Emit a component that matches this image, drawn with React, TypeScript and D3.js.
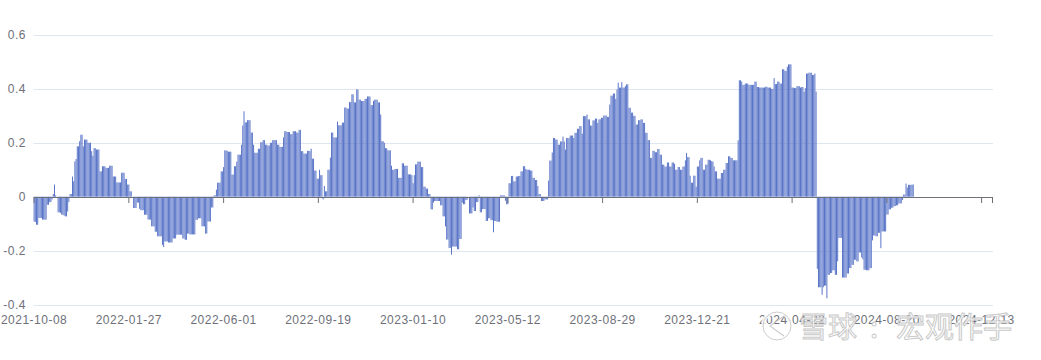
import React from "react";
import * as d3 from "d3";

const TOTAL_CATEGORIES = 800;
const LABEL_STEP = 79;
const tickLabels = [
  "2021-10-08", "2022-01-27", "2022-06-01", "2022-09-19", "2023-01-10",
  "2023-05-12", "2023-08-29", "2023-12-21", "2024-04-22", "2024-08-20", "2024-12-13",
];
const yTicks = [-0.4, -0.2, 0, 0.2, 0.4, 0.6];

const values = [
  -0.092,-0.094,-0.104,-0.104,-0.079, -0.079,-0.079,-0.085,-0.085,-0.085,
  -0.085,-0.03,-0.03,-0.02,-0.02, -0.01,0.01,0.045,0.005,0,
  -0.058,-0.058,-0.06,-0.067,-0.067, -0.07,-0.073,-0.073,-0.055,-0.02,
  0.01,0.01,0.075,0.057,0.131, 0.14,0.187,0.187,0.206,0.23,
  0.23,0.187,0.212,0.212,0.212, 0.2,0.2,0.2,0.169,0.152,
  0.18,0.18,0.175,0.175,0.175, 0.094,0.094,0.113,0.113,0.113,
  0.107,0.107,0.107,0.115,0.115, 0.115,0.075,0.075,0.075,0.053,
  0.053,0.053,0.053,0.089,0.089, 0.089,0.066,0.066,0.045,0.045,
  0.02,0.02,0,-0.042,-0.042, -0.042,-0.022,-0.022,-0.045,-0.05,
  -0.05,-0.05,-0.067,-0.067,-0.067, -0.085,-0.085,-0.085,-0.11,-0.11,
  -0.11,-0.13,-0.13,-0.147,-0.147, -0.147,-0.147,-0.179,-0.187,-0.166,
  -0.166,-0.166,-0.17,-0.17,-0.17, -0.17,-0.155,-0.155,-0.155,-0.141,
  -0.141,-0.141,-0.141,-0.141,-0.155, -0.155,-0.16,-0.16,-0.137,-0.137,
  -0.14,-0.14,-0.14,-0.14,-0.14, -0.086,-0.086,-0.08,-0.08,-0.08,
  -0.11,-0.11,-0.11,-0.137,-0.137, -0.092,-0.092,-0.092,-0.04,-0.04,
  0.005,0.005,0.026,0.052,0.052, 0.052,0.094,0.094,0.11,0.172,
  0.172,0.17,0.167,0.167,0.167, 0.082,0.082,0.113,0.113,0.13,
  0.156,0.156,0.156,0.193,0.264, 0.317,0.276,0.276,0.284,0.284,
  0.284,0.238,0.238,0.193,0.163, 0.163,0.163,0.178,0.178,0.202,
  0.202,0.21,0.21,0.193,0.193, 0.19,0.19,0.2,0.2,0.21,
  0.21,0.21,0.21,0.193,0.193, 0.185,0.185,0.185,0.22,0.243,
  0.243,0.24,0.24,0.24,0.232, 0.232,0.243,0.243,0.243,0.238,
  0.238,0.248,0.248,0.169,0.169, 0.16,0.16,0.16,0.17,0.17,
  0.17,0.178,0.141,0.141,0.097, 0.097,0.067,0.067,0.1,0.08,
  0.08,-0.01,0.04,0.02,0.02, 0.1,0.1,0.145,0.238,0.238,
  0.22,0.22,0.22,0.279,0.265, 0.265,0.265,0.275,0.275,0.331,
  0.331,0.327,0.327,0.351,0.351, 0.38,0.38,0.35,0.35,0.398,
  0.398,0.36,0.36,0.355,0.355, 0.355,0.363,0.363,0.372,0.372,
  0.372,0.34,0.34,0.355,0.36, 0.36,0.36,0.35,0.35,0.305,
  0.206,0.206,0.2,0.18,0.18, 0.172,0.172,0.172,0.115,0.1,
  0.1,0.103,0.103,0.103,0.07, 0.07,0.07,0.124,0.124,0.115,
  0.115,0.115,0.083,0.083,0.083, 0.08,0.05,0.08,0.12,0.12,
  0.13,0.13,0.13,0.11,0.11, 0.037,0.037,0.03,0.03,0.01,
  0.01,-0.047,-0.047,-0.022,-0.016, -0.016,-0.016,-0.016,-0.016,-0.032,
  -0.032,-0.073,-0.073,-0.11,-0.159, -0.159,-0.19,-0.19,-0.215,-0.185,
  -0.185,-0.185,-0.185,-0.195,-0.195, -0.157,-0.157,-0.022,-0.028,-0.028,
  -0.012,-0.012,0,-0.062,-0.062, -0.062,-0.04,-0.053,-0.053,-0.02,
  -0.02,0.005,-0.058,-0.058,-0.046, -0.046,-0.046,-0.09,-0.09,-0.08,
  -0.08,-0.087,-0.087,-0.132,-0.09, -0.09,-0.093,-0.093,-0.093,0.005,
  0.005,0.005,0.005,-0.015,-0.028, -0.028,0.05,0.05,0.077,0.077,
  0.057,0.057,0.075,0.075,0.077, 0.077,0.094,0.094,0.113,0.113,
  0.103,0.1,0.1,0.1,0.097, 0.097,0.07,0.07,0.062,0.062,
  0.04,0.01,0.01,-0.016,-0.016, -0.016,-0.01,-0.01,-0.01,0.06,
  0.134,0.134,0.164,0.218,0.218, 0.212,0.212,0.193,0.193,0.205,
  0.205,0.223,0.205,0.175,0.218, 0.218,0.218,0.227,0.227,0.227,
  0.218,0.237,0.237,0.252,0.252, 0.262,0.262,0.234,0.299,0.299,
  0.299,0.305,0.287,0.287,0.264, 0.264,0.283,0.283,0.29,0.29,
  0.274,0.287,0.287,0.293,0.293, 0.301,0.301,0.301,0.296,0.296,
  0.342,0.375,0.375,0.383,0.383, 0.363,0.398,0.423,0.405,0.405,
  0.425,0.405,0.405,0.41,0.417, 0.417,0.33,0.33,0.312,0.312,
  0.3,0.3,0.268,0.268,0.284, 0.284,0.287,0.287,0.274,0.274,
  0.237,0.237,0.21,0.21,0.144, 0.144,0.17,0.17,0.165,0.165,
  0.177,0.177,0.156,0.156,0.119, 0.119,0.112,0.112,0.127,0.127,
  0.112,0.112,0.127,0.127,0.122, 0.1,0.1,0.11,0.11,0.1,
  0.1,0.112,0.112,0.135,0.162, 0.147,0.147,0.078,0.052,0.052,
  0.078,0.078,0.037,0.112,0.112, 0.135,0.144,0.144,0.1,0.1,
  0.119,0.119,0.137,0.137,0.135, 0.132,0.13,0.112,0.094,0.094,
  0.067,0.067,0.067,0.088,0.088, 0.1,0.1,0.125,0.125,0.15,
  0.15,0.144,0.144,0.135,0.135, 0.135,0.135,0.209,0.432,0.432,
  0.427,0.415,0.415,0.42,0.42, 0.42,0.415,0.415,0.415,0.415,
  0.415,0.427,0.427,0.407,0.407, 0.405,0.405,0.405,0.405,0.405,
  0.408,0.408,0.405,0.405,0.405, 0.4,0.4,0.44,0.418,0.418,
  0.427,0.427,0.42,0.42,0.473, 0.473,0.467,0.467,0.482,0.491,
  0.491,0.491,0.405,0.405,0.403, 0.403,0.41,0.41,0.41,0.405,
  0.407,0.407,0.39,0.403,0.457, 0.457,0.46,0.46,0.46,0.452,
  0.452,0.457,0.39,-0.268,-0.336, -0.336,-0.336,-0.364,-0.336,-0.33,
  -0.33,-0.377,-0.29,-0.29,-0.283, -0.283,-0.273,-0.273,-0.29,-0.29,
  -0.24,-0.153,-0.153,-0.153,-0.3, -0.3,-0.3,-0.3,-0.285,-0.285,
  -0.265,-0.265,-0.253,-0.253,-0.234, -0.234,-0.24,-0.24,-0.207,-0.207,
  -0.225,-0.232,-0.271,-0.271,-0.273, -0.273,-0.273,-0.265,-0.265,-0.162,
  -0.144,-0.144,-0.147,-0.147,-0.134, -0.134,-0.191,-0.129,-0.129,-0.129,
  -0.129,-0.066,-0.066,-0.047,-0.047, -0.041,-0.041,-0.035,-0.035,-0.032,
  -0.032,-0.025,-0.025,-0.025,-0.012, 0.008,0.008,0.049,0.034,0.044,
  0.044,0.044,0.045,0.045,
];

const W = 1041;
const H = 360;
const M = { left: 33.5, right: 993, top: 35, bottom: 304.5 };
const LABEL_COLOR = "#6e7079";
const FONT = "'Liberation Sans', Arial, sans-serif";

export default function App() {
  const categories = d3.range(TOTAL_CATEGORIES);
  const x = d3.scaleBand<number>().domain(categories).range([M.left, M.right]).paddingInner(0.2).paddingOuter(0.1);
  const xb = d3.scaleBand<number>().domain(categories).range([M.left, M.right]);
  const y = d3.scaleLinear().domain([-0.4, 0.6]).range([M.bottom, M.top]);
  const fmt = (v: number) => (v === 0 ? "0" : d3.format(".1f")(v).replace("−", "-"));
  const tickIdx = tickLabels.map((_, i) => i * LABEL_STEP);
  const y0 = y(0);
  const zeroY = Math.round(y0) + 0.5;

  return (
    <svg width={W} height={H} style={{ display: "block", position: "absolute", left: 0, top: 0 }}>
      <rect width={W} height={H} fill="#fff" />
      {yTicks.map((t) => (
        <g key={t}>
          {t !== 0 && (
            <line x1={M.left} x2={M.right} y1={Math.round(y(t)) + 0.5} y2={Math.round(y(t)) + 0.5} stroke="#e0e6f1" strokeWidth={1} />
          )}
          <text x={26} y={y(t)} dy="0.35em" textAnchor="end" fontSize={12} fill={LABEL_COLOR} fontFamily={FONT} letterSpacing={0.5}>
            {fmt(t)}
          </text>
        </g>
      ))}
      <g>
        {values.map((v, i) => {
          const top = Math.min(y(v), y0);
          const h = Math.abs(y(v) - y0);
          return <rect key={i} x={x(i)} y={top} width={x.bandwidth()} height={h} fill="#5470c6" />;
        })}
      </g>
      <line x1={M.left} x2={M.right} y1={zeroY} y2={zeroY} stroke={LABEL_COLOR} strokeWidth={1} />
      {tickIdx.map((ti) => {
        const cx = (xb(ti) as number) + xb.bandwidth() / 2;
        return <line key={"t" + ti} x1={cx} x2={cx} y1={zeroY + 0.5} y2={zeroY + 5.5} stroke={LABEL_COLOR} strokeWidth={1} />;
      })}
      <line x1={M.right - 0.5} x2={M.right - 0.5} y1={zeroY + 0.5} y2={zeroY + 5.5} stroke={LABEL_COLOR} strokeWidth={1} />
      {tickLabels.map((lab, i) => {
        const cx = (xb(tickIdx[i]) as number) + xb.bandwidth() / 2;
        return (
          <text key={lab} x={cx} y={320} dy="0.35em" textAnchor="middle" fontSize={12} fill={LABEL_COLOR} fontFamily={FONT} letterSpacing={0.5}>
            {lab}
          </text>
        );
      })}
      <g opacity={0.9}>
        <circle cx={777} cy={326} r={14} fill="none" stroke="#fff" strokeWidth={4} />
        <circle cx={777} cy={326} r={14} fill="none" stroke="#c9c9c9" strokeWidth={1} />
        <path d="M784 316 L770 326 L784 336" fill="none" stroke="#c9c9c9" strokeWidth={1.2} />
        <text x={799} y={338} fontSize={29} fontFamily="'Noto Sans CJK SC', sans-serif" fill="#fff" stroke="#c4c4c4" strokeWidth={1}>
          雪球
        </text>
        <text x={870} y={338} fontSize={29} fontFamily="'Noto Sans CJK SC', sans-serif" fill="#fff" stroke="#c4c4c4" strokeWidth={1}>
          :
        </text>
        <text x={896} y={338} fontSize={29} fontFamily="'Noto Sans CJK SC', sans-serif" fill="#fff" stroke="#c4c4c4" strokeWidth={1}>
          宏观作手
        </text>
      </g>
    </svg>
  );
}
